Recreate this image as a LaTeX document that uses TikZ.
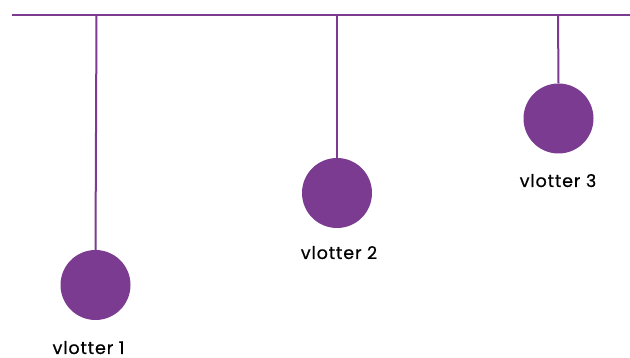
\documentclass[tikz,border=0pt]{standalone}
\usepackage{fontspec}
\setmainfont{Poppins}
\newfontfamily\lblfont[FakeBold=0.6,LetterSpace=5]{Poppins}
\definecolor{vp}{HTML}{7B3B91}
\begin{document}
\begin{tikzpicture}[x=1pt,y=-1pt,
  rope/.style={draw=vp,line width=2pt},
  ball/.style={circle,fill=vp,minimum size=70pt,inner sep=0pt},
  lbl/.style={font=\lblfont\fontsize{17.5}{20}\selectfont,text=black,anchor=base,inner sep=0pt}]
\useasboundingbox (0,0) rectangle (630,358);
\coordinate (L) at (12,15);
\coordinate (R) at (630,15);
\draw[rope] (L) -- (R);
\node[ball] (b1) at (95.5,285) {};
\node[ball] (b2) at (337,193) {};
\node[ball] (b3) at (558.5,118.5) {};
\coordinate (t1) at (96.5,15);
\coordinate (t2) at (337,15);
\coordinate (t3) at (558,15);
\draw[rope] (t1) -- (b1.north);
\draw[rope] (t2) -- (b2.north);
\draw[rope] (t3) -- (b3.north);
\node[lbl] (l1) at (88.5,354) {vlotter 1};
\node[lbl] (l2) at (339,259) {vlotter 2};
\node[lbl] (l3) at (558,187) {vlotter 3};
\end{tikzpicture}
\end{document}
